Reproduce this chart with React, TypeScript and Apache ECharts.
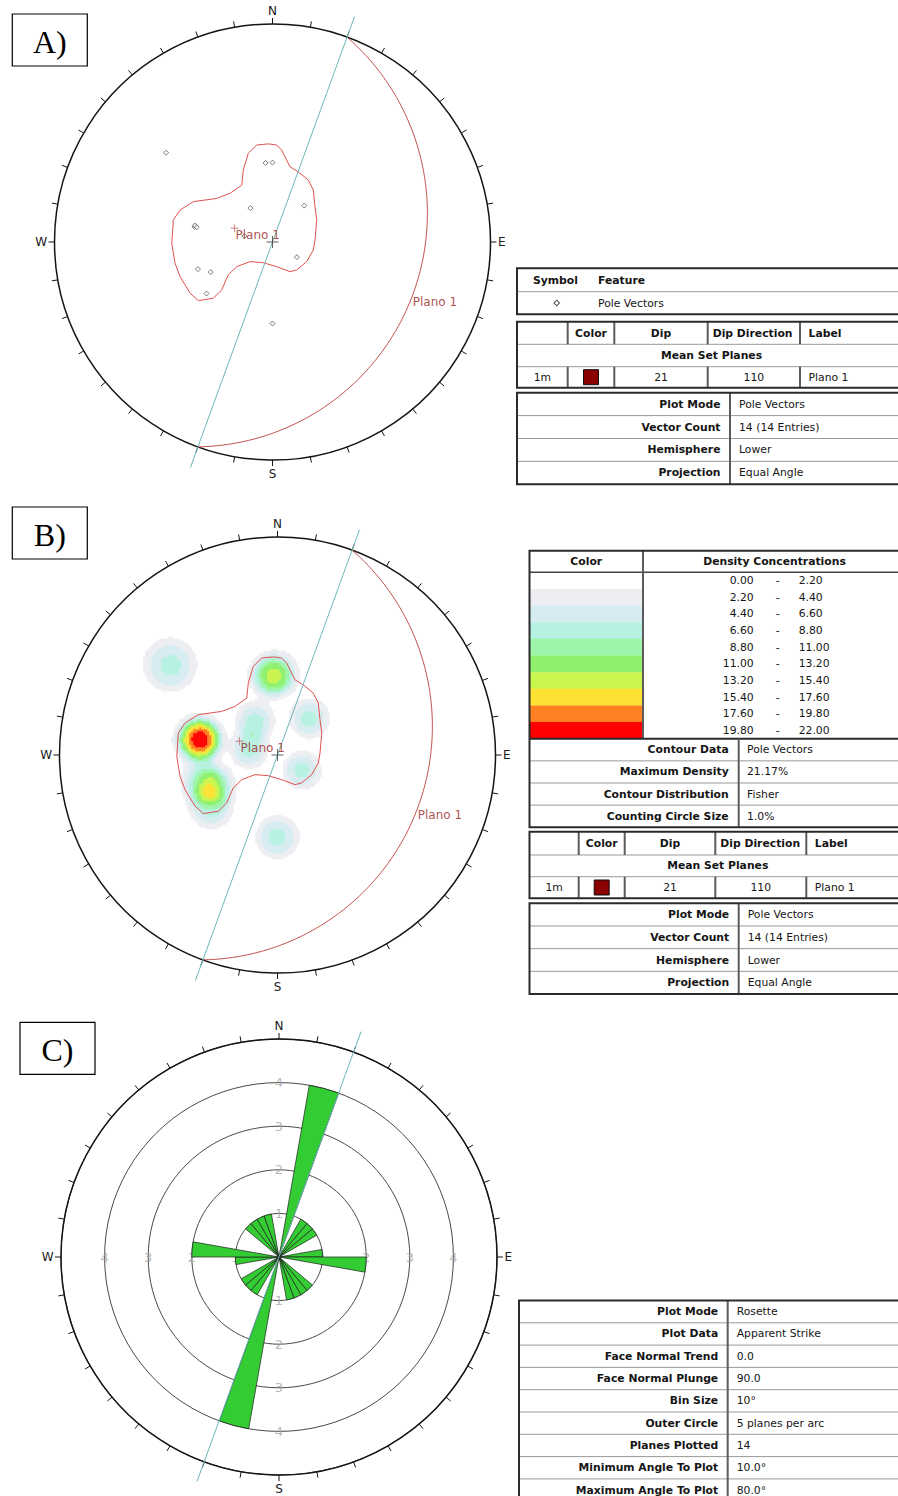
import React, { useEffect, useRef } from "react";
import * as echarts from "echarts";

// ---------- data ----------
// Pole vectors: trend / plunge in degrees (lower hemisphere)
const poleTrend = [310, 355, 0, 327, 41, 281, 282, 281, 122, 250, 244, 232, 180, 282];
const polePlunge = [25, 50, 50, 69, 65, 50, 50, 51, 75, 50, 55, 48, 49, 75];

// Mean set plane
const setId = "1m";
const setLabel = "Plano 1";
const setDip = 21;
const setDipDirection = 110;
const setColor = "#8b0000";

// Set window boundary in net coordinates (primitive radius = 1, +y = north)
const setWindow: [number, number][] = [
  [-0.072, 0.445], [-0.019, 0.45], [0.019, 0.445], [0.042, 0.422], [0.065, 0.376],
  [0.08, 0.345], [0.118, 0.322], [0.164, 0.284], [0.187, 0.239], [0.195, 0.162],
  [0.203, 0.101], [0.195, 0.009], [0.187, -0.037], [0.157, -0.09], [0.111, -0.128],
  [0.08, -0.136], [0.019, -0.113], [-0.042, -0.095], [-0.103, -0.09], [-0.164, -0.113],
  [-0.203, -0.151], [-0.233, -0.22], [-0.272, -0.258], [-0.34, -0.269], [-0.378, -0.235],
  [-0.424, -0.159], [-0.447, -0.098], [-0.462, -0.006], [-0.455, 0.101], [-0.424, 0.147],
  [-0.363, 0.185], [-0.256, 0.2], [-0.195, 0.223], [-0.141, 0.261], [-0.134, 0.33],
  [-0.111, 0.407],
];

// Density contour classes (% of total per 1% area)
const densityLevels = [0, 2.2, 4.4, 6.6, 8.8, 11, 13.2, 15.4, 17.6, 19.8, 22];
const densityColors = [
  "#ffffff", "#eceef2", "#d6ecf0", "#b6f0e0", "#9cf5a8",
  "#8ef06e", "#c8f54e", "#fde234", "#ff8020", "#ff0000",
];
const maxDensity = 21.17;
const kernelHalfAngle = 9.5; // degrees
const countingCircle = "1.0%";

// Rosette
const roseBinSize = 10;
const roseRings = [1, 2, 3, 4];
const roseOuterCircle = 5;
const faceNormalTrend = 0;
const faceNormalPlunge = 90;
const minAngleToPlot = 10;
const maxAngleToPlot = 80;

const compassLabels: Record<number, string> = { 0: "N", 90: "E", 180: "S", 270: "W" };

// ---------- geometry helpers ----------
const D2R = Math.PI / 180;
const FONT = "DejaVu Sans";
const NET_R = 218;
const centers = {
  A: [272.5, 242],
  B: [277.5, 755],
  C: [279, 1257],
};

function lineVec(trend: number, plunge: number) {
  const t = trend * D2R, p = plunge * D2R;
  return [Math.cos(p) * Math.sin(t), Math.cos(p) * Math.cos(t), Math.sin(p)];
}
// equal angle (stereographic) projection of a lower-hemisphere vector
function stereo(v: number[]) {
  return [v[0] / (1 + v[2]), v[1] / (1 + v[2])];
}

const poleVecs = poleTrend.map((t, i) => lineVec(t, polePlunge[i]));
const polePts = poleVecs.map(stereo);

const strikeAz = setDipDirection - 90;
const strikeVec = [Math.sin(strikeAz * D2R), Math.cos(strikeAz * D2R), 0];
const dipVec = lineVec(setDipDirection, setDip);

const greatCircle: number[][] = [];
for (let a = 0; a <= 180; a += 1) {
  const c = Math.cos(a * D2R), s = Math.sin(a * D2R);
  greatCircle.push(stereo([
    c * strikeVec[0] + s * dipVec[0],
    c * strikeVec[1] + s * dipVec[1],
    c * strikeVec[2] + s * dipVec[2],
  ]));
}
const dipPoint = stereo(dipVec);
const meanPole = stereo(lineVec(setDipDirection + 180, 90 - setDip));
const strikeLine = [
  [1.1 * strikeVec[0], 1.1 * strikeVec[1]],
  [-1.1 * strikeVec[0], -1.1 * strikeVec[1]],
];
const windowLine = [...setWindow, setWindow[0]];

// Density of poles on a regular grid over the net (angular counting kernel)
const HN = 218;
function densityCells() {
  const raw: number[][] = [];
  const t0 = kernelHalfAngle * D2R;
  let mx = 0;
  for (let i = 0; i < HN; i++) {
    for (let j = 0; j < HN; j++) {
      const x = -1 + ((i + 0.5) * 2) / HN;
      const y = -1 + ((j + 0.5) * 2) / HN;
      const r2 = x * x + y * y;
      if (r2 > 1) continue;
      const k = 1 + r2;
      const e = (2 * x) / k, n = (2 * y) / k, d = (1 - r2) / k;
      let s = 0;
      for (const v of poleVecs) {
        const c = Math.min(1, Math.abs(e * v[0] + n * v[1] + d * v[2]));
        const th = Math.acos(c) / t0;
        s += Math.exp(-th * th * th);
      }
      const val = (100 * s) / poleVecs.length;
      if (val > mx) mx = val;
      raw.push([i, j, val]);
    }
  }
  const f = maxDensity / mx;
  return raw
    .map((c) => [c[0], c[1], +(c[2] * f).toFixed(3)])
    .filter((c) => c[2] >= densityLevels[1]);
}

// Rosette bins from apparent strike (bidirectional)
const nHalf = 180 / roseBinSize;
const strikeBins = new Array(nHalf).fill(0);
poleTrend.forEach((t) => {
  const strike = (((t + 90) % 180) + 180) % 180;
  strikeBins[Math.floor(strike / roseBinSize)]++;
});
const roseData = Array.from({ length: nHalf * 2 }, (_, k) => {
  const v = strikeBins[k % nHalf];
  return v > 0 ? v : "-";
});
const roseCats = Array.from({ length: nHalf * 2 }, (_, k) => String(k * roseBinSize));

// ---------- table contents ----------
const featureHeader = ["Symbol", "Feature"];
const featureName = "Pole Vectors";
const planeHeader = ["Color", "Dip", "Dip Direction", "Label"];
const poleInfoRows = [
  ["Plot Mode", "Pole Vectors"],
  ["Vector Count", `${poleTrend.length} (${poleTrend.length} Entries)`],
  ["Hemisphere", "Lower"],
  ["Projection", "Equal Angle"],
];
const contourRows = [
  ["Contour Data", "Pole Vectors"],
  ["Maximum Density", `${maxDensity.toFixed(2)}%`],
  ["Contour Distribution", "Fisher"],
  ["Counting Circle Size", countingCircle],
];
const roseRows = [
  ["Plot Mode", "Rosette"],
  ["Plot Data", "Apparent Strike"],
  ["Face Normal Trend", faceNormalTrend.toFixed(1)],
  ["Face Normal Plunge", faceNormalPlunge.toFixed(1)],
  ["Bin Size", `${roseBinSize}°`],
  ["Outer Circle", `${roseOuterCircle} planes per arc`],
  ["Planes Plotted", String(poleTrend.length)],
  ["Minimum Angle To Plot", `${minAngleToPlot.toFixed(1)}°`],
  ["Maximum Angle To Plot", `${maxAngleToPlot.toFixed(1)}°`],
];

// ---------- graphics: panel tags and tables ----------
const T_BORDER = "#2b2b2b";
const T_INNER = "#9a9a9a";
const T_COL = "#5c5c5c";
const T_RIGHT = 906;

function buildGraphics() {
  const g: any[] = [];
  const line = (x1: number, y1: number, x2: number, y2: number, w = 1, c = T_INNER) =>
    g.push({ type: "line", silent: true, shape: { x1, y1, x2, y2 }, style: { stroke: c, lineWidth: w } });
  const text = (x: number, y: number, s: string, align = "left", bold = false, size = 10.8, color = "#151515", family = FONT) =>
    g.push({
      type: "text", silent: true, x, y,
      style: {
        text: s, fill: color, font: `${bold ? "bold " : ""}${size}px "${family}"`,
        textAlign: align, textVerticalAlign: "middle", align, verticalAlign: "middle",
      },
    });
  const frame = (x: number, y1: number, y2: number) =>
    g.push({ type: "rect", silent: true, shape: { x, y: y1, width: T_RIGHT - x, height: y2 - y1 }, style: { fill: "none", stroke: T_BORDER, lineWidth: 2 } });
  const swatch = (x: number, y: number, w: number, h: number) =>
    g.push({ type: "rect", silent: true, shape: { x, y, width: w, height: h }, style: { fill: setColor, stroke: "#111", lineWidth: 1 } });

  // panel tags
  const tag = (x: number, y: number, s: string) => {
    g.push({ type: "rect", silent: true, shape: { x, y, width: 75, height: 52 }, style: { fill: "none", stroke: "#000", lineWidth: 1.2 } });
    text(x + 37.5, y + 28, s, "center", false, 32, "#000", "Liberation Serif");
  };
  tag(12.3, 14, "A)");
  tag(12.3, 507, "B)");
  tag(20, 1022.3, "C)");

  // label / value table
  const infoTable = (left: number, top: number, rowH: number, divider: number, rows: string[][]) => {
    const bottom = top + rowH * rows.length;
    rows.forEach((r, i) => {
      const cy = top + rowH * (i + 0.5);
      if (i > 0) line(left, top + rowH * i, T_RIGHT, top + rowH * i, 1, T_INNER);
      text(divider - 9.5, cy, r[0], "right", true);
      text(divider + 9, cy, r[1], "left", false);
    });
    line(divider, top, divider, bottom, 2, T_COL);
    frame(left, top, bottom);
  };

  // mean set plane table
  const planeTable = (left: number, ys: number[], cols: number[]) => {
    const [t, h1, h2, b] = ys;
    line(left, h1, T_RIGHT, h1, 1, T_INNER);
    line(left, h2, T_RIGHT, h2, 1, T_INNER);
    cols.forEach((c) => {
      line(c, t, c, h1, 2, T_COL);
      line(c, h2, c, b, 2, T_COL);
    });
    const hy = (t + h1) / 2, ry = (h2 + b) / 2;
    text((cols[0] + cols[1]) / 2, hy, planeHeader[0], "center", true);
    text((cols[1] + cols[2]) / 2, hy, planeHeader[1], "center", true);
    text(cols[2] + 5, hy, planeHeader[2], "left", true);
    text(cols[3] + 8.5, hy, planeHeader[3], "left", true);
    text((left + T_RIGHT) / 2, (h1 + h2) / 2, "Mean Set Planes", "center", true);
    text((left + cols[0]) / 2, ry, setId, "center");
    swatch((cols[0] + cols[1]) / 2 - 7.5, ry - 7.5, 15, 15);
    text((cols[1] + cols[2]) / 2, ry, String(setDip), "center");
    text((cols[2] + cols[3]) / 2, ry, String(setDipDirection), "center");
    text(cols[3] + 8.5, ry, setLabel, "left");
    frame(left, t, b);
  };

  // ---- A tables
  {
    const left = 517, t = 268.3, h = 291.7, b = 314.3;
    line(left, h, T_RIGHT, h, 1, T_INNER);
    text(533, (t + h) / 2, featureHeader[0], "left", true);
    text(598, (t + h) / 2, featureHeader[1], "left", true);
    g.push({
      type: "rect", silent: true, x: 556.7, y: (h + b) / 2, rotation: Math.PI / 4,
      shape: { x: -2, y: -2, width: 4, height: 4 }, style: { fill: "#fff", stroke: "#555", lineWidth: 1 },
    });
    text(598, (h + b) / 2, featureName, "left");
    frame(left, t, b);
  }
  planeTable(517, [321.7, 344.3, 366.7, 387.7], [567.7, 614.3, 707.7, 800]);
  infoTable(517, 392.7, 22.9, 730, poleInfoRows);

  // ---- B tables
  {
    const left = 529.5, t = 550.7, h = 572.3, rowH = 16.64, split = 643;
    const cEnd = h + rowH * (densityColors.length);
    densityColors.forEach((c, k) => {
      g.push({ type: "rect", silent: true, shape: { x: left, y: h + rowH * k, width: split - left, height: rowH + 0.3 }, style: { fill: c } });
      const cy = h + rowH * (k + 0.5);
      text(753.7, cy, densityLevels[k].toFixed(2), "right");
      text(777.7, cy, "-", "center");
      text(798.7, cy, densityLevels[k + 1].toFixed(2), "left");
    });
    line(left, h, T_RIGHT, h, 1.5, "#444");
    line(split, t, split, cEnd, 2, T_COL);
    text((left + split) / 2, (t + h) / 2, "Color", "center", true);
    text((split + T_RIGHT) / 2, (t + h) / 2, "Density Concentrations", "center", true);
    line(left, cEnd, T_RIGHT, cEnd, 2, T_BORDER);
    const cRowH = 22.15;
    const cDiv = 738.7;
    contourRows.forEach((r, i) => {
      const y0 = cEnd + cRowH * i;
      if (i > 0) line(left, y0, T_RIGHT, y0, 1, T_INNER);
      text(cDiv - 10, y0 + cRowH / 2, r[0], "right", true);
      text(cDiv + 8.3, y0 + cRowH / 2, r[1], "left");
    });
    line(cDiv, cEnd, cDiv, cEnd + cRowH * 4, 2, T_COL);
    frame(left, t, cEnd + cRowH * 4);
  }
  planeTable(529.5, [831.7, 855, 876.7, 898.3], [578.7, 624.7, 715.3, 806.3]);
  infoTable(529.5, 903.3, 22.68, 738.7, poleInfoRows);

  // ---- C table
  infoTable(519, 1300.5, 22.3, 727.7, roseRows);
  return g;
}

// ---------- option ----------
const plusPath = "path://M5.5,0H6.5V12H5.5ZM0,5.5H12V6.5H0Z";

function netSeries(g: number, showPoles: boolean) {
  const ax = { xAxisIndex: g, yAxisIndex: g };
  const base = { symbol: "none", clip: false, silent: true };
  const s: any[] = [
    { type: "line", ...ax, ...base, data: windowLine, lineStyle: { color: "#e0524f", width: 1 }, z: 4 },
    { type: "line", ...ax, ...base, data: greatCircle, lineStyle: { color: "#c4504c", width: 1 }, z: 4 },
    { type: "line", ...ax, ...base, data: strikeLine, lineStyle: { color: "#6cb6b9", width: 1 }, z: 5 },
  ];
  if (showPoles) {
    s.push({
      type: "scatter", ...ax, silent: true, data: polePts, symbol: "diamond", symbolSize: 5,
      itemStyle: { color: "#fff", borderColor: "#5a5a5a", borderWidth: 1 }, z: 6,
    });
  }
  s.push({ type: "scatter", ...ax, silent: true, data: [[0, 0]], symbol: plusPath, symbolSize: 12, itemStyle: { color: "#3a3a3a" }, z: 6 });
  const lbl = { show: true, formatter: setLabel, position: "right", distance: 0, color: "#9b2323", fontSize: 12, fontFamily: FONT };
  s.push({
    type: "scatter", ...ax, silent: true, data: [meanPole], symbol: plusPath, symbolSize: 8,
    itemStyle: { color: "#b83333" }, label: { ...lbl, offset: [-3, 7] }, z: 7,
  });
  s.push({
    type: "scatter", ...ax, silent: true, data: [dipPoint], symbolSize: 1,
    itemStyle: { color: "rgba(0,0,0,0)" }, label: { ...lbl, offset: [-1, 9] }, z: 7,
  });
  return s;
}

function frameAngleAxis(i: number) {
  return {
    polarIndex: i, type: "value", min: 0, max: 360, interval: 10, startAngle: 90, clockwise: true,
    axisLine: { show: true, lineStyle: { color: "#141414", width: 1.5 } },
    axisTick: { show: true, length: 6, lineStyle: { color: "#141414", width: 1 } },
    axisLabel: {
      show: true, margin: 7.5, color: "#1a1a1a", fontSize: 12, fontFamily: FONT,
      formatter: (v: number) => (v < 360 && compassLabels[v]) || "",
    },
    splitLine: { show: false },
  };
}
const hidden = { axisLine: { show: false }, axisTick: { show: false }, axisLabel: { show: false }, splitLine: { show: false } };

function buildOption() {
  const R = NET_R;
  const list = [centers.A, centers.B, centers.C];
  const series: any[] = [];
  series.push(...netSeries(0, true));
  const heatIdx = series.length;
  series.push({
    type: "heatmap", xAxisIndex: 3, yAxisIndex: 3, data: densityCells(),
    progressive: 0, silent: true, z: 1, emphasis: { disabled: true },
  });
  series.push(...netSeries(1, false));
  // rosette ring labels
  const ringLabels: number[][] = [];
  roseRings.forEach((r) => [0, 90, 180, 270].forEach((a) => ringLabels.push([r, a])));
  series.push({
    type: "scatter", coordinateSystem: "polar", polarIndex: 2, silent: true, data: ringLabels, symbolSize: 1,
    itemStyle: { color: "rgba(0,0,0,0)" }, z: 2,
    label: { show: true, position: "inside", formatter: (p: any) => String(p.value[0]), color: "#a6a6a6", fontSize: 13, fontFamily: FONT },
  });
  series.push({
    type: "bar", coordinateSystem: "polar", polarIndex: 3, silent: true, data: roseData,
    barCategoryGap: "0%", barGap: "0%", z: 3,
    itemStyle: { color: "#33cc33", borderColor: "#1e1e1e", borderWidth: 0.7 },
  });
  series.push({
    type: "line", xAxisIndex: 2, yAxisIndex: 2, symbol: "none", clip: false, silent: true,
    data: strikeLine, lineStyle: { color: "#6cb6b9", width: 1 }, z: 5,
  });

  const pieces = densityLevels.slice(1, -1).map((lv, k) => {
    const idx = k + 1;
    return idx === densityLevels.length - 2
      ? { gte: lv, color: densityColors[idx] }
      : { gte: lv, lt: densityLevels[idx + 1], color: densityColors[idx] };
  });
  const catIdx = Array.from({ length: HN }, (_, i) => i);

  return {
    animation: false,
    backgroundColor: "#ffffff",
    polar: [
      { center: centers.A, radius: R },
      { center: centers.B, radius: R },
      { center: centers.C, radius: R },
      { center: centers.C, radius: R },
    ],
    angleAxis: [
      frameAngleAxis(0),
      frameAngleAxis(1),
      frameAngleAxis(2),
      { polarIndex: 3, type: "category", data: roseCats, startAngle: 90, clockwise: true, boundaryGap: true, ...hidden },
    ],
    radiusAxis: [
      { polarIndex: 0, type: "value", min: 0, max: 1, ...hidden },
      { polarIndex: 1, type: "value", min: 0, max: 1, ...hidden },
      {
        polarIndex: 2, type: "value", min: 0, max: roseOuterCircle, interval: 1,
        axisLine: { show: false }, axisTick: { show: false }, axisLabel: { show: false },
        splitLine: { show: true, lineStyle: { color: "#4a4a4a", width: 1 } },
      },
      { polarIndex: 3, type: "value", min: 0, max: roseOuterCircle, ...hidden },
    ],
    grid: [
      ...list.map(([cx, cy]) => ({ left: cx - 1.1 * R, top: cy - 1.1 * R, width: 2.2 * R, height: 2.2 * R })),
      { left: centers.B[0] - R, top: centers.B[1] - R, width: 2 * R, height: 2 * R },
    ],
    xAxis: [
      ...[0, 1, 2].map((g) => ({ gridIndex: g, type: "value", min: -1.1, max: 1.1, show: false })),
      { gridIndex: 3, type: "category", data: catIdx, show: false },
    ],
    yAxis: [
      ...[0, 1, 2].map((g) => ({ gridIndex: g, type: "value", min: -1.1, max: 1.1, show: false })),
      { gridIndex: 3, type: "category", data: catIdx, show: false },
    ],
    visualMap: [{ type: "piecewise", show: false, seriesIndex: heatIdx, dimension: 2, pieces }],
    graphic: buildGraphics(),
    series,
  };
}

export default function App() {
  const ref = useRef<HTMLDivElement>(null);
  useEffect(() => {
    if (!ref.current) return;
    const chart = echarts.init(ref.current, null, { renderer: "svg" });
    chart.setOption(buildOption() as any);
    return () => chart.dispose();
  }, []);
  return (
    <div
      ref={ref}
      style={{ position: "absolute", left: 0, top: 0, width: 898, height: 1496, background: "#fff" }}
    />
  );
}
